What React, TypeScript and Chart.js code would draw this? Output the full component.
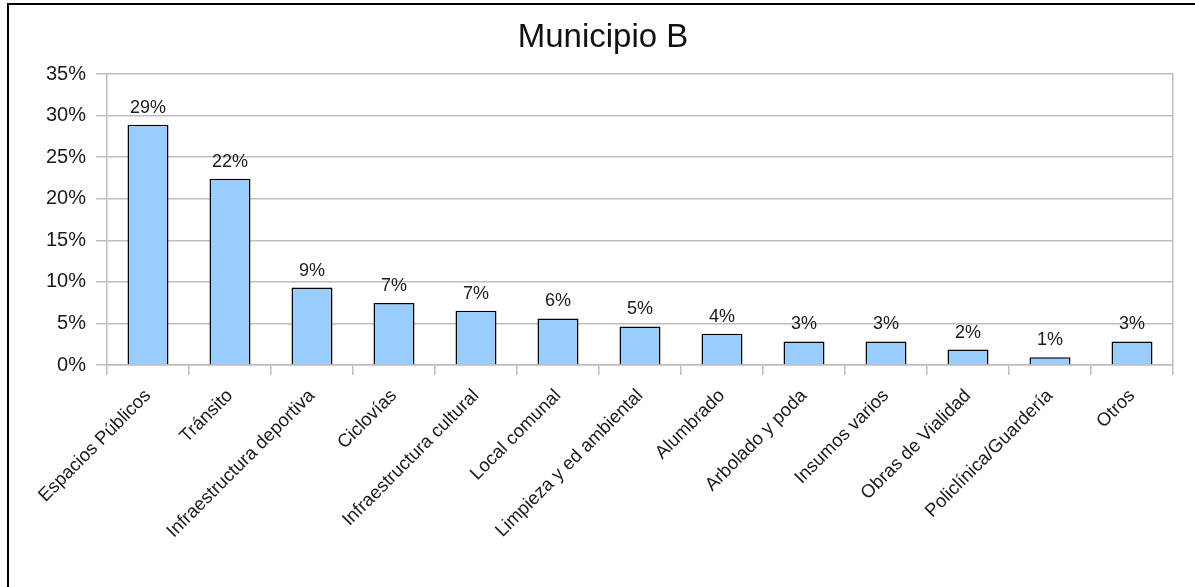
import React, { useEffect, useRef } from "react";
import { Chart, registerables } from "chart.js";

Chart.register(...registerables);

const categories = [
  "Espacios Públicos",
  "Tránsito",
  "Infraestructura deportiva",
  "Ciclovías",
  "Infraestructura cultural",
  "Local comunal",
  "Limpieza y ed ambiental",
  "Alumbrado",
  "Arbolado y poda",
  "Insumos varios",
  "Obras de Vialidad",
  "Policlínica/Guardería",
  "Otros",
];

const values = [28.9, 22.4, 9.32, 7.45, 6.53, 5.6, 4.64, 3.77, 2.83, 2.83, 1.86, 0.93, 2.83];

const yMax = 35;
const yStep = 5;
const titleText = "Municipio B";

const FONT = "'Liberation Sans', Arial, sans-serif";
const GRID = "#bdbdbd";

export default function App() {
  const ref = useRef<HTMLCanvasElement | null>(null);

  useEffect(() => {
    if (!ref.current) return;
    const labelPlugin = {
      id: "barLabels",
      afterDatasetsDraw(chart: any) {
        const ctx = chart.ctx;
        const meta = chart.getDatasetMeta(0);
        ctx.save();
        ctx.font = `18px ${FONT}`;
        ctx.fillStyle = "#1a1a1a";
        ctx.textAlign = "center";
        ctx.textBaseline = "alphabetic";
        meta.data.forEach((bar: any, i: number) => {
          ctx.fillText(Math.round(values[i]) + "%", bar.x, bar.y - 12);
        });
        ctx.font = `33px ${FONT}`;
        ctx.fillStyle = "#111";
        ctx.fillText(titleText, 603, 47);
        ctx.restore();
      },
    };
    const chart = new Chart(ref.current, {
      type: "bar",
      data: {
        labels: categories,
        datasets: [
          {
            data: values,
            backgroundColor: "#99ccff",
            borderColor: "#000000",
            borderWidth: 1.5,
            barPercentage: 0.5,
            categoryPercentage: 1,
          },
        ],
      },
      options: {
        animation: false,
        responsive: true,
        maintainAspectRatio: false,
        layout: { padding: { left: 0, right: 22, top: 74, bottom: 0 } },
        plugins: {
          legend: { display: false },
          tooltip: { enabled: false },
          title: { display: false },
        },
        scales: {
          x: {
            offset: true,
            afterFit: (s: any) => {
              s.height = 222;
            },
            grid: {
              display: true,
              drawOnChartArea: true,
              color: (c: any) => (c.index === undefined ? GRID : "rgba(0,0,0,0)"),
              tickColor: GRID,
              tickLength: 10,
              lineWidth: 1.5,
            },
            border: { color: GRID, width: 1.5 },
            ticks: {
              color: "#1a1a1a",
              font: { family: FONT, size: 18.5 },
              minRotation: 45,
              maxRotation: 45,
              autoSkip: false,
              padding: 10,
            },
          },
          y: {
            min: 0,
            max: yMax,
            afterFit: (s: any) => {
              s.width = 107;
            },
            grid: { color: GRID, tickColor: GRID, tickLength: 11, lineWidth: 1.5 },
            border: { color: GRID, width: 1.5 },
            ticks: {
              stepSize: yStep,
              color: "#1a1a1a",
              font: { family: FONT, size: 20 },
              padding: 10,
              callback: (v: any) => v + "%",
            },
          },
        },
      },
      plugins: [labelPlugin],
    });
    return () => chart.destroy();
  }, []);

  return (
    <div
      style={{
        position: "fixed",
        left: 0,
        top: 0,
        width: 1195,
        height: 587,
        overflow: "hidden",
        background: "#fff",
      }}
    >
      <div
        style={{
          position: "absolute",
          left: 7,
          top: 3,
          width: 1300,
          height: 700,
          borderLeft: "2px solid #000",
          borderTop: "2px solid #000",
        }}
      />
      <div style={{ position: "absolute", left: 0, top: 0, width: 1195, height: 587 }}>
        <canvas ref={ref} />
      </div>
    </div>
  );
}
